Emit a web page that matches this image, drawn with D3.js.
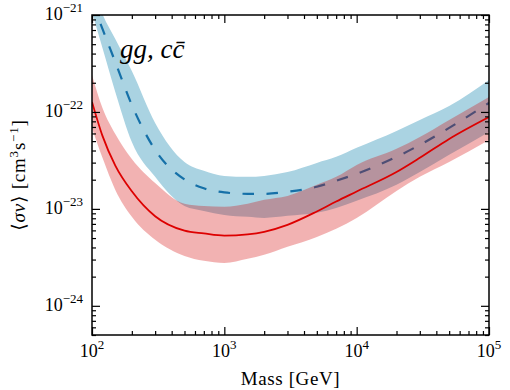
<!DOCTYPE html>
<html>
<head>
<meta charset="utf-8">
<script src="https://cdn.jsdelivr.net/npm/d3@7"></script>
<style>
  body { margin: 0; background: #fff; }
  text { font-family: "Liberation Serif", "DejaVu Serif", serif; fill: #000; }
</style>
</head>
<body>
<svg id="chart" width="510" height="390"></svg>
<script>
// masses in GeV
var mass = [100, 120, 150, 200, 300, 500, 700, 1000, 1500, 2000, 3000, 5000, 7000, 10000, 20000, 30000, 50000, 100000];

// red (solid) limit and its band
var red_line = [1.27e-22, 5.66e-23, 2.8e-23, 1.52e-23, 8.4e-24, 5.96e-24, 5.58e-24, 5.3e-24, 5.46e-24, 5.8e-24, 6.84e-24, 9.4e-24, 1.19e-23, 1.51e-23, 2.4e-23, 3.36e-23, 5.27e-23, 8.87e-23];
var red_hi = [2.41e-22, 1.10e-22, 5.93e-23, 3.27e-23, 1.85e-23, 1.13e-23, 1.07e-23, 1.05e-23, 1.13e-23, 1.24e-23, 1.36e-23, 1.77e-23, 2.14e-23, 2.84e-23, 4.16e-23, 5.52e-23, 8.28e-23, 1.43e-22];
var red_lo = [6.84e-23, 3.36e-23, 1.57e-23, 8.28e-24, 4.79e-24, 3.27e-24, 2.91e-24, 2.77e-24, 3.05e-24, 3.36e-24, 4.06e-24, 5.14e-24, 6.22e-24, 8.07e-24, 1.53e-23, 2.14e-23, 3.05e-23, 5.14e-23];

// blue (dashed) limit and its band
var blue_line = [1.38e-21, 7.18e-22, 3.27e-22, 1.18e-22, 4.06e-23, 2.01e-23, 1.63e-23, 1.48e-23, 1.43e-23, 1.43e-23, 1.50e-23, 1.69e-23, 1.95e-23, 2.30e-23, 3.44e-23, 4.57e-23, 6.84e-23, 1.24e-22];
var blue_hi = [2.0e-21, 1.02e-21, 5.66e-22, 2.65e-22, 7.71e-23, 3.05e-23, 2.47e-23, 2.19e-23, 2.14e-23, 2.19e-23, 2.40e-23, 2.98e-23, 3.44e-23, 4.26e-23, 6.37e-23, 8.28e-23, 1.15e-22, 2.14e-22];
var blue_lo = [1.07e-21, 4.57e-22, 1.61e-22, 4.9e-23, 2.14e-23, 1.07e-23, 9.53e-24, 8.67e-24, 8.28e-24, 8.07e-24, 8.47e-24, 9.10e-24, 1.02e-23, 1.21e-23, 1.77e-23, 2.40e-23, 3.61e-23, 6.22e-23];

var x_major = [1e2, 1e3, 1e4, 1e5];
var x_labels = ["2", "3", "4", "5"];
var y_major = [1e-24, 1e-23, 1e-22, 1e-21];
var y_labels = ["\u221224", "\u221223", "\u221222", "\u221221"];

var pl = 92, pr = 489, pt = 15, pb = 335;
var svg = d3.select("#chart");

var xScale = d3.scaleLog().domain([1e2, 1e5]).range([pl, pr]);
var yScale = d3.scaleLog().domain([5e-25, 1e-21]).range([pb, pt]);

svg.append("clipPath").attr("id", "plotclip")
  .append("rect")
  .attr("x", pl).attr("y", pt)
  .attr("width", pr - pl).attr("height", pb - pt);

var plot = svg.append("g").attr("clip-path", "url(#plotclip)");

function band(lo, hi) {
  return d3.area()
    .x(function(d, i) { return xScale(mass[i]); })
    .y0(function(d, i) { return yScale(lo[i]); })
    .y1(function(d, i) { return yScale(hi[i]); })
    .curve(d3.curveMonotoneX)(mass);
}
function line(vals) {
  return d3.line()
    .x(function(d, i) { return xScale(mass[i]); })
    .y(function(d, i) { return yScale(vals[i]); })
    .curve(d3.curveMonotoneX)(mass);
}

plot.append("path").attr("d", band(blue_lo, blue_hi))
  .attr("fill", "#aad3e2");
plot.append("path").attr("d", line(blue_line))
  .attr("fill", "none").attr("stroke", "#1570a8")
  .attr("stroke-width", 2.2).attr("stroke-dasharray", "11.5,12.5");
plot.append("path").attr("d", band(red_lo, red_hi))
  .attr("fill", "rgb(212,0,0)").attr("fill-opacity", 0.3);
plot.append("path").attr("d", line(red_line))
  .attr("fill", "none").attr("stroke", "#dd0000").attr("stroke-width", 1.8);

// minor tick positions
var x_minor = [], y_minor = [];
[1e2, 1e3, 1e4].forEach(function(b) {
  for (var k = 2; k < 10; k++) x_minor.push(b * k);
});
[1e-25, 1e-24, 1e-23, 1e-22].forEach(function(b) {
  for (var k = 2; k < 10; k++) {
    if (b * k >= 5e-25 && b * k <= 1e-21) y_minor.push(b * k);
  }
});

function ticks(axis, scale, vals, size, tx) {
  var g = svg.append("g")
    .attr("transform", tx)
    .call(axis(scale).tickValues(vals).tickSize(size).tickFormat(""));
  g.select(".domain").remove();
  g.selectAll("line").attr("stroke", "#000").attr("stroke-width", 1.2);
}
ticks(d3.axisBottom, xScale, x_major, -8, "translate(0," + pb + ")");
ticks(d3.axisBottom, xScale, x_minor, -4, "translate(0," + pb + ")");
ticks(d3.axisTop, xScale, x_major, -8, "translate(0," + pt + ")");
ticks(d3.axisTop, xScale, x_minor, -4, "translate(0," + pt + ")");
ticks(d3.axisLeft, yScale, y_major, -8, "translate(" + pl + ",0)");
ticks(d3.axisLeft, yScale, y_minor, -4, "translate(" + pl + ",0)");
ticks(d3.axisRight, yScale, y_major, -8, "translate(" + pr + ",0)");
ticks(d3.axisRight, yScale, y_minor, -4, "translate(" + pr + ",0)");

svg.append("rect")
  .attr("x", pl).attr("y", pt)
  .attr("width", pr - pl).attr("height", pb - pt)
  .attr("fill", "none").attr("stroke", "#000").attr("stroke-width", 1.5);

// tick labels
x_major.forEach(function(v, i) {
  var t = svg.append("text")
    .attr("x", xScale(v)).attr("y", 357)
    .attr("text-anchor", "middle").style("font-size", "18px");
  t.append("tspan").text("10");
  t.append("tspan").attr("dy", -8).style("font-size", "13px").text(x_labels[i]);
});
y_major.forEach(function(v, i) {
  var t = svg.append("text")
    .attr("x", 83).attr("y", yScale(v) + 5)
    .attr("text-anchor", "end").style("font-size", "18px");
  t.append("tspan").text("10");
  t.append("tspan").attr("dy", -8).style("font-size", "13px").text(y_labels[i]);
});

// axis titles
svg.append("text")
  .attr("x", (pl + pr) / 2).attr("y", 385)
  .attr("text-anchor", "middle").style("font-size", "19px")
  .style("letter-spacing", "0.6px")
  .text("Mass [GeV]");

var yl = svg.append("text")
  .attr("transform", "translate(25," + ((pt + pb) / 2) + ") rotate(-90)")
  .attr("text-anchor", "middle").style("font-size", "19px")
  .style("letter-spacing", "0.8px");
yl.append("tspan").text("\u27e8");
yl.append("tspan").style("font-style", "italic").text("\u03c3v");
yl.append("tspan").text("\u27e9 [cm");
yl.append("tspan").attr("dy", -7).style("font-size", "13px").text("3");
yl.append("tspan").attr("dy", 7).text("s");
yl.append("tspan").attr("dy", -7).style("font-size", "13px").text("\u22121");
yl.append("tspan").attr("dy", 7).text("]");

// channel label
svg.append("text")
  .attr("x", 120).attr("y", 58)
  .style("font-size", "27px").style("font-style", "italic")
  .text("gg, cc\u0304");
</script>
</body>
</html>
